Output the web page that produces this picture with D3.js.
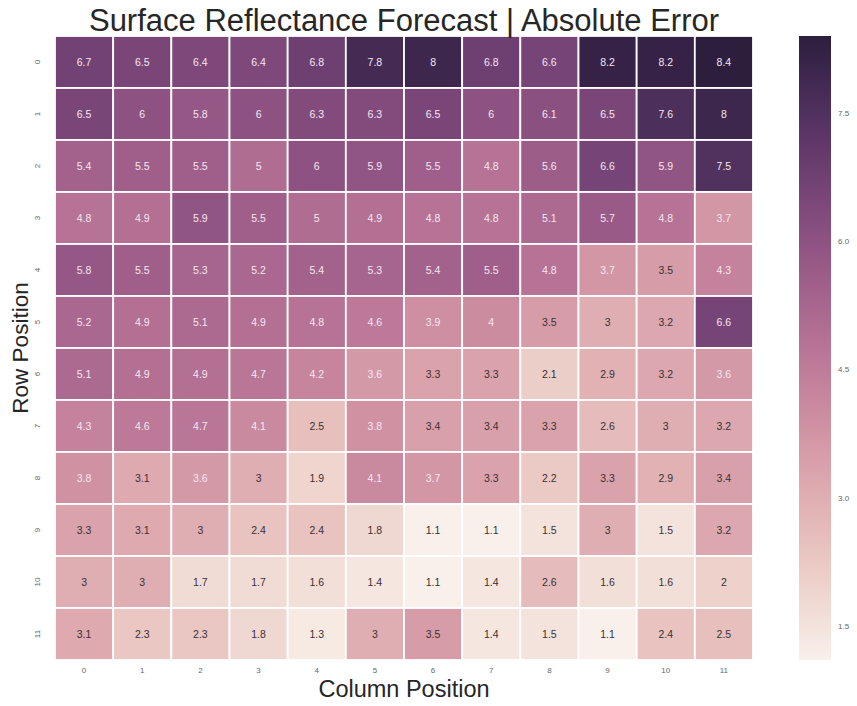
<!DOCTYPE html>
<html>
<head>
<meta charset="utf-8">
<script src="https://cdn.jsdelivr.net/npm/d3@7"></script>
<style>
  html, body { margin: 0; padding: 0; background: #fff; }
  svg { display: block; font-family: "Liberation Sans", Arial, sans-serif; }
</style>
</head>
<body>
<svg id="chart" width="857" height="706"></svg>
<script>
// Absolute error per grid cell (rows top to bottom, columns left to right)
const rowLabels = ["0","1","2","3","4","5","6","7","8","9","10","11"];
const colLabels = ["0","1","2","3","4","5","6","7","8","9","10","11"];
const errorRows = [
  [6.7, 6.5, 6.4, 6.4, 6.8, 7.8, 8.0, 6.8, 6.6, 8.2, 8.2, 8.4],
  [6.5, 6.0, 5.8, 6.0, 6.3, 6.3, 6.5, 6.0, 6.1, 6.5, 7.6, 8.0],
  [5.4, 5.5, 5.5, 5.0, 6.0, 5.9, 5.5, 4.8, 5.6, 6.6, 5.9, 7.5],
  [4.8, 4.9, 5.9, 5.5, 5.0, 4.9, 4.8, 4.8, 5.1, 5.7, 4.8, 3.7],
  [5.8, 5.5, 5.3, 5.2, 5.4, 5.3, 5.4, 5.5, 4.8, 3.7, 3.5, 4.3],
  [5.2, 4.9, 5.1, 4.9, 4.8, 4.6, 3.9, 4.0, 3.5, 3.0, 3.2, 6.6],
  [5.1, 4.9, 4.9, 4.7, 4.2, 3.6, 3.3, 3.3, 2.1, 2.9, 3.2, 3.6],
  [4.3, 4.6, 4.7, 4.1, 2.5, 3.8, 3.4, 3.4, 3.3, 2.6, 3.0, 3.2],
  [3.8, 3.1, 3.6, 3.0, 1.9, 4.1, 3.7, 3.3, 2.2, 3.3, 2.9, 3.4],
  [3.3, 3.1, 3.0, 2.4, 2.4, 1.8, 1.1, 1.1, 1.5, 3.0, 1.5, 3.2],
  [3.0, 3.0, 1.7, 1.7, 1.6, 1.4, 1.1, 1.4, 2.6, 1.6, 1.6, 2.0],
  [3.1, 2.3, 2.3, 1.8, 1.3, 3.0, 3.5, 1.4, 1.5, 1.1, 2.4, 2.5]
];
const colorbarTicks = [1.5, 3.0, 4.5, 6.0, 7.5];

const titleText = "Surface Reflectance Forecast | Absolute Error";
const xTitle = "Column Position";
const yTitle = "Row Position";

// Cubehelix colour ramp (light pink -> dark purple)
function cubehelixRGB(x) {
  const start = 0, rot = 0.4, gamma = 1.0, hue = 0.8;
  const xg = Math.pow(x, gamma);
  const a = hue * xg * (1 - xg) / 2;
  const phi = 2 * Math.PI * (start / 3 + rot * x);
  const f = (p0, p1) => Math.max(0, Math.min(1, xg + a * (p0 * Math.cos(phi) + p1 * Math.sin(phi))));
  return [f(-0.14861, 1.78277), f(-0.29227, -0.90649), f(1.97294, 0.0)];
}
const lightEnd = 0.95, darkEnd = 0.15;
function rampRGB(t) {
  return cubehelixRGB(lightEnd + (darkEnd - lightEnd) * t);
}
function rampColor(t) {
  const c = rampRGB(t);
  return d3.rgb(c[0] * 255, c[1] * 255, c[2] * 255).formatHex();
}
function luminance(t) {
  const c = rampRGB(t).map(v => v <= 0.03928 ? v / 12.92 : Math.pow((v + 0.055) / 1.055, 2.4));
  return 0.2126 * c[0] + 0.7152 * c[1] + 0.0722 * c[2];
}

const allValues = errorRows.flat();
const vmin = d3.min(allValues), vmax = d3.max(allValues);
const norm = d3.scaleLinear().domain([vmin, vmax]).range([0, 1]).clamp(true);
const color = v => rampColor(norm(v));

const svg = d3.select("#chart");

// Heatmap area
const plotLeft = 55, plotRight = 753, plotTop = 36, plotBottom = 660;
const x = d3.scaleBand().domain(colLabels).range([plotLeft, plotRight]);
const y = d3.scaleBand().domain(rowLabels).range([plotTop, plotBottom]);

const cells = [];
errorRows.forEach((row, i) => row.forEach((v, j) => cells.push({ r: rowLabels[i], c: colLabels[j], v })));

svg.append("g")
  .selectAll("rect")
  .data(cells)
  .join("rect")
  .attr("x", d => x(d.c))
  .attr("y", d => y(d.r))
  .attr("width", x.bandwidth())
  .attr("height", y.bandwidth())
  .attr("fill", d => color(d.v))
  .attr("stroke", "#ffffff")
  .attr("stroke-width", 1.8);

svg.append("g")
  .selectAll("text")
  .data(cells)
  .join("text")
  .attr("x", d => x(d.c) + x.bandwidth() / 2)
  .attr("y", d => y(d.r) + y.bandwidth() / 2)
  .attr("text-anchor", "middle")
  .attr("dominant-baseline", "central")
  .attr("font-size", 10.5)
  .attr("fill", d => luminance(norm(d.v)) > 0.408 ? "#3b3035" : "#f6e6f0")
  .text(d => d3.format("")(d.v));

// Column tick labels
const xAxis = d3.axisBottom(x).tickSize(0).tickPadding(7);
const gx = svg.append("g").attr("transform", `translate(0,${plotBottom})`).call(xAxis);
gx.select(".domain").remove();
gx.selectAll("text").attr("font-size", 8).attr("fill", "#666").attr("font-family", "Liberation Sans, Arial, sans-serif");

// Row tick labels, rotated to read bottom-to-top
const yAxis = d3.axisLeft(y).tickSize(0);
const gy = svg.append("g").attr("transform", `translate(${plotLeft},0)`).call(yAxis);
gy.select(".domain").remove();
gy.selectAll(".tick text")
  .attr("font-size", 8).attr("fill", "#666").attr("font-family", "Liberation Sans, Arial, sans-serif")
  .attr("text-anchor", "middle")
  .attr("x", 0).attr("y", 0).attr("dy", "0.32em")
  .attr("transform", "translate(-18,0) rotate(-90)");

// Titles
svg.append("text")
  .attr("x", (plotLeft + plotRight) / 2).attr("y", 30.5)
  .attr("text-anchor", "middle").attr("font-size", 31).attr("fill", "#262626")
  .text(titleText);

svg.append("text")
  .attr("x", (plotLeft + plotRight) / 2).attr("y", 697)
  .attr("text-anchor", "middle").attr("font-size", 23.5).attr("fill", "#262626")
  .text(xTitle);

svg.append("text")
  .attr("transform", `translate(27.5,${(plotTop + plotBottom) / 2}) rotate(-90)`)
  .attr("text-anchor", "middle").attr("font-size", 22.5).attr("fill", "#262626")
  .text(yTitle);

// Colour bar
const cbLeft = 799, cbWidth = 32;
const cbScale = d3.scaleLinear().domain([vmin, vmax]).range([plotBottom, plotTop]);
const grad = svg.append("defs").append("linearGradient")
  .attr("id", "cbGrad").attr("x1", 0).attr("y1", 1).attr("x2", 0).attr("y2", 0);
d3.range(0, 1.0001, 0.02).forEach(t => {
  grad.append("stop").attr("offset", t).attr("stop-color", rampColor(t));
});
svg.append("rect")
  .attr("x", cbLeft).attr("y", plotTop)
  .attr("width", cbWidth).attr("height", plotBottom - plotTop)
  .attr("fill", "url(#cbGrad)");

const cbAxis = d3.axisRight(cbScale).tickValues(colorbarTicks).tickSize(0).tickPadding(7)
  .tickFormat(d3.format(".1f"));
const gcb = svg.append("g").attr("transform", `translate(${cbLeft + cbWidth},0)`).call(cbAxis);
gcb.select(".domain").remove();
gcb.selectAll("text").attr("font-size", 8).attr("fill", "#666").attr("font-family", "Liberation Sans, Arial, sans-serif");
</script>
</body>
</html>
